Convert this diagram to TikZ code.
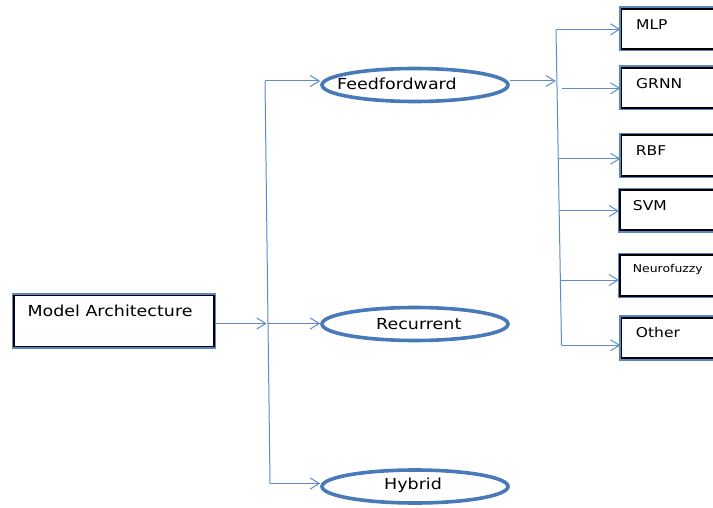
\documentclass[tikz,border=0pt]{standalone}
\usepackage{fontspec}
\setmainfont{DejaVu Sans}
\usetikzlibrary{arrows.meta,shapes.geometric}
\definecolor{connblue}{RGB}{95,140,200}
\definecolor{ringblue}{RGB}{72,122,186}
\definecolor{edgeblue}{RGB}{90,135,195}
\newcommand{\wtext}[1]{\scalebox{1.15}[1]{#1}}
\tikzset{
  conn/.style={draw=connblue, line width=1pt,
    arrows={-Straight Barb[length=9pt,width=11pt,line width=1pt]}},
  plainconn/.style={draw=connblue, line width=1pt},
  ring/.style={ellipse, draw=ringblue, line width=3.6pt, fill=white,
    minimum width=186pt, minimum height=33pt, inner sep=0pt},
  boxnode/.style={rectangle, draw=black, line width=1.8pt, fill=white,
    preaction={draw=edgeblue, line width=4.6pt},
    anchor=north west, inner sep=0pt},
  lbl/.style={anchor=base west, inner sep=0pt, font=\fontsize{15.2}{18}\selectfont},
  boxlbl/.style={anchor=base west, inner sep=0pt, font=\fontsize{13.5}{16}\selectfont},
  smalllbl/.style={anchor=base west, inner sep=0pt, font=\fontsize{10.8}{13}\selectfont}
}
\begin{document}
\begin{tikzpicture}[x=1pt,y=-1pt]
  \clip (0,0) rectangle (713,508);
  \fill[white] (0,0) rectangle (713,508);

  % root box
  \node[boxnode, minimum width=200pt, minimum height=51pt] (ma) at (13,294.5) {};
  \node[lbl] (matxt) at (27.3,316.5) {\wtext{Model Architecture}};

  % architecture classes
  \node[ring] (ff) at (415,85) {};
  \node[lbl] (fftxt) at (337,89.5) {\wtext{Feedfordward}};
  \node[ring] (rc) at (415,324) {};
  \node[lbl] (rctxt) at (376,329) {\wtext{Recurrent}};
  \node[ring] (hy) at (415,486.5) {};
  \node[lbl] (hytxt) at (384,489.5) {\wtext{Hybrid}};

  % feedforward model types
  \node[boxnode, minimum width=110pt, minimum height=40.5pt] (mlp) at (620.5,7.8) {};
  \node[boxnode, minimum width=110pt, minimum height=40.5pt] (grnn) at (620.5,66.8) {};
  \node[boxnode, minimum width=110pt, minimum height=40.5pt] (rbf) at (620.5,134.3) {};
  \node[boxnode, minimum width=110pt, minimum height=40.5pt] (svm) at (619,189) {};
  \node[boxnode, minimum width=110pt, minimum height=40.5pt] (nf) at (619,254.5) {};
  \node[boxnode, minimum width=110pt, minimum height=40.5pt] (oth) at (620.5,316.8) {};

  \node[boxlbl] (mlptxt) at (636,29.3) {\wtext{MLP}};
  \node[boxlbl] (grnntxt) at (636,88.5) {\wtext{GRNN}};
  \node[boxlbl] (rbftxt) at (635.7,155.5) {\wtext{RBF}};
  \node[boxlbl] (svmtxt) at (632.7,210.5) {\wtext{SVM}};
  \node[smalllbl] (nftxt) at (632.7,272.5) {\wtext{Neurofuzzy}};
  \node[boxlbl] (othtxt) at (635.7,337) {\wtext{Other}};

  % first trunk
  \coordinate (t1a) at (265,81);
  \coordinate (t1b) at (270,483.5);
  \coordinate (jm) at (267.7,323.5);
  \draw[plainconn] (t1a) -- (t1b);
  \draw[conn] (t1a) -- (ff.west |- t1a);
  \draw[conn] (t1b) -- (hy.west |- t1b);
  \draw[conn] (jm) -- (rc.west |- jm);
  \draw[conn] (ma.east |- jm) -- ([xshift=-1pt]jm);

  % second trunk
  \coordinate (t2a) at (556,29.3);
  \coordinate (t2b) at (561.5,345.3);
  \coordinate (f2) at (556.8,81);
  \coordinate (g) at (561.7,88.3);
  \coordinate (r) at (558.3,158.7);
  \coordinate (s) at (559.2,211);
  \coordinate (n) at (560.4,280);
  \draw[plainconn] (t2a) -- (t2b);
  \draw[conn] (ff.east |- f2) -- ([xshift=-1pt]f2);
  \draw[conn] (t2a) -- (mlp.west |- t2a);
  \draw[conn] (g) -- (grnn.west |- g);
  \draw[conn] (r) -- (rbf.west |- r);
  \draw[conn] (s) -- (svm.west |- s);
  \draw[conn] (n) -- (nf.west |- n);
  \draw[conn] (t2b) -- (oth.west |- t2b);
\end{tikzpicture}
\end{document}
